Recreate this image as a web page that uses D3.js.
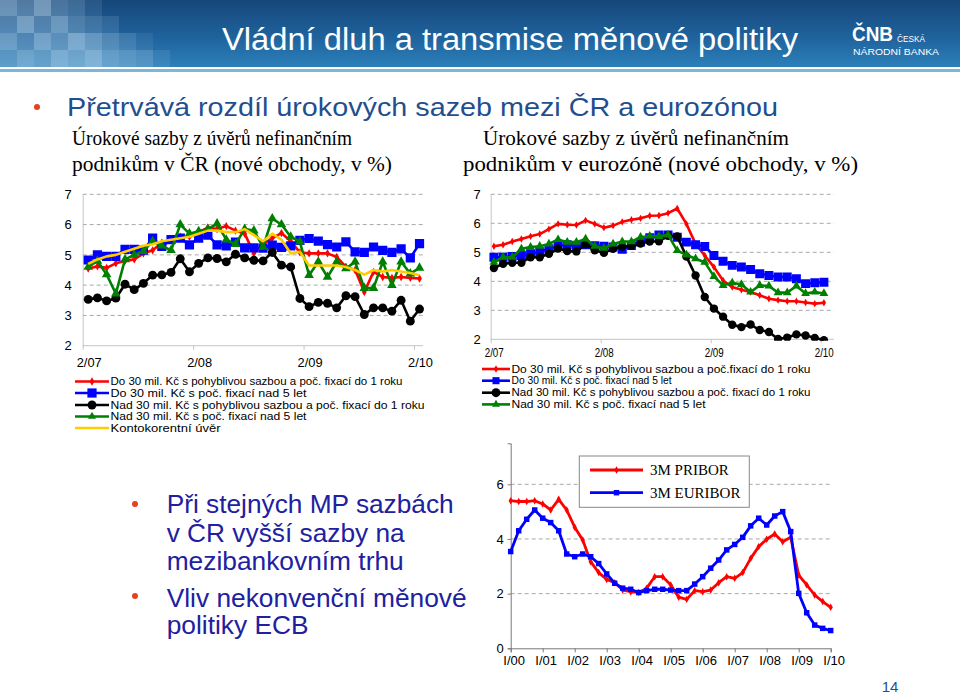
<!DOCTYPE html>
<html><head><meta charset="utf-8">
<script src="https://cdn.jsdelivr.net/npm/d3@7"></script>
<style>body{margin:0;background:#fff}svg{display:block}</style>
</head><body><svg id="c" width="960" height="696"></svg>
<script>
// ---------- DATA ----------
const czTickLabels = ["2/07","2/08","2/09","2/10"];
const czSmallFloat = [4.55,4.62,4.57,4.72,4.8,4.85,5.05,5.15,5.4,5.5,5.6,5.6,5.75,5.9,5.85,5.95,5.8,5.7,5.05,5.35,5.55,5.72,5.45,5.08,5.05,5.05,5.05,4.93,4.6,4.5,3.77,4.44,4.27,4.24,4.27,4.24,4.22];
const czSmallFix = [4.83,5.0,4.95,4.95,5.18,5.18,5.16,5.55,5.28,5.5,5.55,5.33,5.55,5.65,5.33,5.3,5.42,5.23,5.23,5.22,5.32,5.25,5.3,5.48,5.54,5.45,5.34,5.26,5.43,5.1,5.08,5.26,5.15,5.08,5.2,4.9,5.37];
const czLargeFloat = [3.53,3.58,3.48,3.57,4.03,3.85,4.06,4.33,4.34,4.42,4.87,4.44,4.72,4.9,4.88,4.77,5.02,4.9,4.82,4.8,5.08,4.66,4.6,3.56,3.29,3.43,3.4,3.25,3.65,3.62,3.03,3.25,3.25,3.14,3.5,2.81,3.21];
const czLargeFix = [4.6,4.8,4.35,3.72,4.85,5.0,5.12,5.45,5.3,5.15,6.0,5.7,5.78,5.85,6.03,5.5,5.35,5.85,5.8,5.26,6.2,6.0,5.6,5.43,4.33,4.77,4.27,4.77,4.55,4.77,3.9,3.9,4.77,4.0,4.77,4.38,4.57];
const czOverdraft = [4.7,4.85,4.95,5.0,5.1,5.2,5.3,5.35,5.45,5.5,5.55,5.6,5.7,5.8,5.8,5.75,5.75,5.85,5.65,5.45,5.7,5.5,5.05,5.1,4.65,4.65,4.65,4.65,4.6,4.5,4.35,4.5,4.45,4.5,4.45,4.4,4.33];

const ezTickLabels = ["2/07","2/08","2/09","2/10"];
const ezSmallFloat = [5.21,5.26,5.37,5.46,5.55,5.63,5.8,5.98,5.95,5.94,6.1,5.98,5.85,5.92,6.05,6.12,6.17,6.26,6.27,6.35,6.51,5.98,5.29,4.89,4.49,4.03,3.8,3.71,3.63,3.52,3.4,3.35,3.31,3.31,3.27,3.23,3.26];
const ezSmallFix = [4.83,4.83,4.86,4.89,4.95,5.02,5.12,5.23,5.26,5.23,5.26,5.23,5.21,5.18,5.1,5.23,5.35,5.5,5.6,5.6,5.52,5.35,5.26,5.2,4.89,4.69,4.55,4.49,4.41,4.26,4.2,4.15,4.15,4.09,3.92,3.95,3.97];
const ezLargeFloat = [4.46,4.6,4.64,4.64,4.83,4.83,4.95,5.13,5.04,5.03,5.28,5.07,4.98,5.12,5.2,5.22,5.3,5.37,5.38,5.57,5.55,4.85,4.2,3.46,3.06,2.78,2.5,2.42,2.51,2.32,2.25,2.01,2.06,2.17,2.13,2.05,1.97];
const ezLargeFix = [4.66,4.83,4.83,5.12,5.18,5.21,5.29,5.44,5.35,5.35,5.46,5.21,5.14,5.29,5.37,5.37,5.52,5.56,5.55,5.6,5.06,4.91,4.78,4.66,4.17,3.86,3.95,3.89,3.63,3.86,3.84,3.61,3.61,3.84,3.58,3.63,3.58];

const quarterLabels = ["I/00","I/01","I/02","I/03","I/04","I/05","I/06","I/07","I/08","I/09","I/10"];
const pribor = [5.4,5.37,5.37,5.4,5.28,5.06,5.45,5.06,4.43,3.96,3.17,2.77,2.52,2.4,2.13,2.07,2.04,2.2,2.62,2.62,2.32,1.87,1.79,2.11,2.07,2.13,2.4,2.62,2.56,2.77,3.29,3.72,3.99,4.18,3.9,4.06,2.68,2.32,1.95,1.71,1.5];
const euribor = [3.54,4.3,4.72,5.06,4.76,4.6,4.3,3.45,3.35,3.45,3.35,3.1,2.72,2.38,2.2,2.16,2.04,2.11,2.16,2.16,2.13,2.11,2.11,2.35,2.62,2.93,3.23,3.6,3.8,4.06,4.48,4.76,4.51,4.84,5.0,4.27,2.01,1.3,0.85,0.73,0.65];

const czNames = ["Do 30 mil. Kč s pohyblivou sazbou a  poč. fixací do 1 roku","Do 30 mil. Kč s poč.  fixací nad 5 let","Nad 30 mil. Kč s pohyblivou sazbou a  poč. fixací do 1 roku","Nad 30 mil. Kč s poč.  fixací nad 5 let","Kontokorentní úvěr"];
const ezNames = ["Do 30 mil. Kč s pohyblivou sazbou a poč.fixací do 1 roku","Do 30 mil. Kč s poč. fixací nad 5 let","Nad 30 mil. Kč s pohyblivou sazbou a poč. fixací do 1 roku","Nad 30 mil. Kč s poč. fixací nad 5 let"];
const rateNames = ["3M PRIBOR","3M EURIBOR"];

// ---------- DRAW ----------
const svg = d3.select("#c");
const SANS = "'Liberation Sans', Arial, sans-serif";
const SERIF = "'Liberation Serif', 'Times New Roman', serif";
const defs = svg.append("defs");

// header
const grad = defs.append("linearGradient").attr("id","hg").attr("x1",0).attr("y1",0).attr("x2",0).attr("y2",1);
grad.append("stop").attr("offset","0%").attr("stop-color","#15477a");
grad.append("stop").attr("offset","55%").attr("stop-color","#1f629c");
grad.append("stop").attr("offset","100%").attr("stop-color","#2c80ba");
svg.append("rect").attr("x",0).attr("y",0).attr("width",960).attr("height",67).attr("fill","url(#hg)");
svg.append("rect").attr("x",0).attr("y",69).attr("width",960).attr("height",3).attr("fill","#7db6dd");
const mosaic = [
 [.45,.32,.5,.28,.22,.1,0,0,0,0],
 [.3,.5,.3,.45,.28,.2,.12,0,0,0],
 [.42,.28,.48,.35,.52,.4,.28,.18,.08,0],
 [.3,.42,.35,.5,.42,.52,.36,.3,.24,.1]];
mosaic.forEach((row,r)=>row.forEach((o,c)=>{ if(o>0) svg.append("rect").attr("x",c*17).attr("y",r*17-1).attr("width",17).attr("height",17).attr("fill","#cfe6f6").attr("opacity",o);}));
svg.append("text").attr("x",222).attr("y",50).attr("fill","#fff").attr("font-family",SANS).attr("font-size",31).attr("textLength",576).attr("lengthAdjust","spacingAndGlyphs").text("Vládní dluh a transmise měnové politiky");
svg.append("text").attr("x",852).attr("y",41).attr("fill","#fff").attr("font-family",SANS).attr("font-weight","bold").attr("font-size",20).attr("textLength",41).attr("lengthAdjust","spacingAndGlyphs").text("ČNB");
svg.append("text").attr("x",897).attr("y",42).attr("fill","#fff").attr("font-family",SANS).attr("font-size",8.5).attr("textLength",28).attr("lengthAdjust","spacingAndGlyphs").text("ČESKÁ");
svg.append("text").attr("x",853).attr("y",55).attr("fill","#fff").attr("font-family",SANS).attr("font-size",8.5).attr("textLength",86).attr("lengthAdjust","spacingAndGlyphs").text("NÁRODNÍ BANKA");

// subtitle
svg.append("circle").attr("cx",37).attr("cy",107).attr("r",3).attr("fill","#e8401c");
svg.append("text").attr("x",67).attr("y",116).attr("fill","#1f4f8f").attr("font-family",SANS).attr("font-size",26.5).attr("textLength",711).attr("lengthAdjust","spacingAndGlyphs").text("Přetrvává rozdíl úrokových sazeb mezi ČR a eurozónou");

// chart titles
[["Úrokové sazby z úvěrů nefinančním",72,145,280],["podnikům v ČR (nové obchody, v %)",72,171,320],
 ["Úrokové sazby z úvěrů nefinančním",483,145,306],["podnikům v eurozóně (nové obchody, v %)",463,171,395]]
 .forEach(([t,x,y,w])=>svg.append("text").attr("x",x).attr("y",y).attr("fill","#000").attr("font-family",SERIF).attr("font-size",21).attr("textLength",w).attr("lengthAdjust","spacingAndGlyphs").text(t));

const styles = {
  red:{color:"#ff0000", sym:d3.symbolDiamond, size:20},
  blue:{color:"#0000ff", sym:d3.symbolSquare, size:85},
  black:{color:"#000000", sym:d3.symbolCircle, size:62},
  green:{color:"#008000", sym:d3.symbolTriangle, size:40},
  yellow:{color:"#ffcc00", sym:null, size:0}
};

function drawPanel(cfg){
  const g = svg.append("g");
  const x = d3.scaleLinear().domain([0,36]).range(cfg.xr);
  const y = d3.scaleLinear().domain([2,7]).range(cfg.yr);
  [3,4,5,6,7].forEach(v=>g.append("line").attr("x1",cfg.xr[0]).attr("x2",cfg.gridRight).attr("y1",y(v)).attr("y2",y(v))
     .attr("stroke","#a8a8a8").attr("stroke-dasharray","4,3").attr("stroke-width",1));
  const ya = g.append("g").attr("transform",`translate(${cfg.xr[0]},0)`)
     .call(d3.axisLeft(y).tickValues([2,3,4,5,6,7]).tickFormat(d3.format("d")).tickSize(0).tickPadding(cfg.yPad));
  ya.select(".domain").attr("stroke","#c4c4c4");
  ya.selectAll("text").attr("font-family",SANS).attr("font-size",13).attr("fill","#000");
  g.append("line").attr("x1",cfg.xr[0]).attr("x2",cfg.gridRight).attr("y1",cfg.yr[0]).attr("y2",cfg.yr[0]).attr("stroke","#c4c4c4");
  const xa = g.append("g").attr("transform",`translate(0,${cfg.yr[0]})`)
     .call(d3.axisBottom(x).tickValues([0,12,24,36]).tickFormat((d,i)=>cfg.tickLabels[i]).tickSize(4));
  xa.select(".domain").remove();
  xa.selectAll("line").attr("stroke","#c4c4c4");
  xa.selectAll("text").attr("font-family",SANS).attr("font-size",13).attr("fill","#000")
     .attr("y",cfg.labY).attr("dx",cfg.labDx).attr("textLength",cfg.labW).attr("lengthAdjust","spacingAndGlyphs");
  const clipId = "clip"+cfg.id;
  defs.append("clipPath").attr("id",clipId).append("rect").attr("x",cfg.xr[0]-10).attr("y",cfg.yr[1]-15)
     .attr("width",cfg.gridRight-cfg.xr[0]+25).attr("height",cfg.yr[0]-cfg.yr[1]+16.5);
  const pg = g.append("g").attr("clip-path",`url(#${clipId})`);
  const line = d3.line().x((d,i)=>x(i+cfg.off)).y(d=>y(d));
  cfg.series.forEach(s=>{
    const st = styles[s.style];
    pg.append("path").attr("d",line(s.values)).attr("fill","none").attr("stroke",st.color).attr("stroke-width",2.6).attr("stroke-linejoin","round");
    if(st.sym){
      pg.selectAll(null).data(s.values).enter().append("path")
        .attr("d",d3.symbol().type(st.sym).size(s.size||st.size))
        .attr("transform",(d,i)=>`translate(${x(i+cfg.off)},${y(d)})`).attr("fill",st.color);
    }
  });
  // legend
  cfg.legend.forEach((L,k)=>{
    const st = styles[L.style];
    const yy = L.y;
    g.append("line").attr("x1",cfg.legX[0]).attr("x2",cfg.legX[1]).attr("y1",yy).attr("y2",yy).attr("stroke",st.color).attr("stroke-width",2.6);
    if(st.sym) g.append("path").attr("d",d3.symbol().type(st.sym).size(L.size||st.size)).attr("transform",`translate(${(cfg.legX[0]+cfg.legX[1])/2},${yy})`).attr("fill",st.color);
    g.append("text").attr("x",cfg.legX[1]+1.5).attr("y",yy+3.6).attr("font-family",SANS).attr("font-size",10.5).attr("fill","#000")
      .attr("textLength",L.w).attr("lengthAdjust","spacingAndGlyphs").text(L.name);
  });
}

drawPanel({id:"L", xr:[82.7,414], yr:[345.7,194.3], gridRight:423, yPad:11, tickLabels:czTickLabels, off:0.6, labY:12, labDx:6, labW:25,
  series:[{style:"red",values:czSmallFloat},{style:"blue",values:czSmallFix},{style:"black",values:czLargeFloat},{style:"green",values:czLargeFix},{style:"yellow",values:czOverdraft}],
  legX:[75,109],
  legend:[{style:"red",name:czNames[0],y:381.5,w:292},{style:"blue",name:czNames[1],y:393,w:196},{style:"black",name:czNames[2],y:405,w:314},{style:"green",name:czNames[3],y:416.5,w:196,size:28},{style:"yellow",name:czNames[4],y:428,w:110}]
});
drawPanel({id:"R", xr:[490.7,820.7], yr:[339.3,194.3], gridRight:834, yPad:10, tickLabels:ezTickLabels, off:0.35, labY:8, labDx:3, labW:19,
  series:[{style:"red",values:ezSmallFloat,size:16},{style:"blue",values:ezSmallFix,size:80},{style:"black",values:ezLargeFloat,size:55},{style:"green",values:ezLargeFix,size:34}],
  legX:[482,510],
  legend:[{style:"red",name:ezNames[0],y:369,w:299,size:16},{style:"blue",name:ezNames[1],y:380.7,w:160,size:50},{style:"black",name:ezNames[2],y:392.7,w:299},{style:"green",name:ezNames[3],y:404.4,w:194,size:28}]
});

// bottom chart
(function(){
  const g = svg.append("g");
  const x = d3.scaleLinear().domain([0,40]).range([510.7,830.7]);
  const y = d3.scaleLinear().domain([0,7.5]).range([648.3,443.3]);
  [2,4,6].forEach(v=>g.append("line").attr("x1",510.7).attr("x2",831).attr("y1",y(v)).attr("y2",y(v)).attr("stroke","#a8a8a8").attr("stroke-dasharray","4,3"));
  const ya = g.append("g").attr("transform","translate(510.7,0)").call(d3.axisLeft(y).tickValues([0,2,4,6]).tickSize(3).tickPadding(4));
  ya.select(".domain").attr("stroke","#777");
  ya.selectAll("line").attr("stroke","#777");
  ya.selectAll("text").attr("font-family",SANS).attr("font-size",13).attr("fill","#000");
  const xa = g.append("g").attr("transform","translate(0,648.3)").call(d3.axisBottom(x).tickValues(d3.range(0,41,4)).tickFormat((d,i)=>quarterLabels[i]).tickSize(4).tickPadding(3));
  xa.select(".domain").attr("stroke","#777");
  xa.selectAll("line").attr("stroke","#777");
  xa.selectAll("text").attr("font-family",SANS).attr("font-size",13).attr("fill","#000").attr("dx",3);
  const line = d3.line().x((d,i)=>x(i)).y(d=>y(d));
  const ser = [{values:pribor,color:"#ff0000",sym:d3.symbolDiamond,size:16},{values:euribor,color:"#0000ff",sym:d3.symbolSquare,size:30}];
  ser.forEach(s=>{
    g.append("path").attr("d",line(s.values)).attr("fill","none").attr("stroke",s.color).attr("stroke-width",2.8).attr("stroke-linejoin","round");
    g.selectAll(null).data(s.values).enter().append("path").attr("d",d3.symbol().type(s.sym).size(s.size))
      .attr("transform",(d,i)=>`translate(${x(i)},${y(d)})`).attr("fill",s.color);
  });
  g.append("rect").attr("x",579.3).attr("y",456).attr("width",170).attr("height",51.3).attr("fill","#fff").attr("stroke","#888");
  ser.forEach((s,k)=>{
    const yy = 470 + k*22.7;
    g.append("line").attr("x1",590).attr("x2",643).attr("y1",yy).attr("y2",yy).attr("stroke",s.color).attr("stroke-width",2.8);
    g.append("path").attr("d",d3.symbol().type(s.sym).size(s.size)).attr("transform",`translate(616.5,${yy})`).attr("fill",s.color);
    g.append("text").attr("x",650).attr("y",yy+5).attr("font-family",SERIF).attr("font-size",15).attr("fill","#000").text(rateNames[k]);
  });
})();

// bottom-left bullets
svg.append("circle").attr("cx",135).attr("cy",504).attr("r",3).attr("fill","#e8401c");
svg.append("circle").attr("cx",135).attr("cy",596).attr("r",3).attr("fill","#e8401c");
[["Při stejných MP sazbách",512.7,287],["v ČR vyšší sazby na",541.7,238],["mezibankovním trhu",570,237],["Vliv nekonvenční měnové",606.7,300],["politiky ECB",634,142]]
 .forEach(([t,yy,w])=>svg.append("text").attr("x",166.7).attr("y",yy).attr("fill","#2020a0").attr("font-family",SANS).attr("font-size",26).attr("textLength",w).attr("lengthAdjust","spacingAndGlyphs").text(t));

svg.append("text").attr("x",890).attr("y",692).attr("text-anchor","middle").attr("fill","#1f4f8f").attr("font-family",SANS).attr("font-size",15).text("14");
</script></body></html>
